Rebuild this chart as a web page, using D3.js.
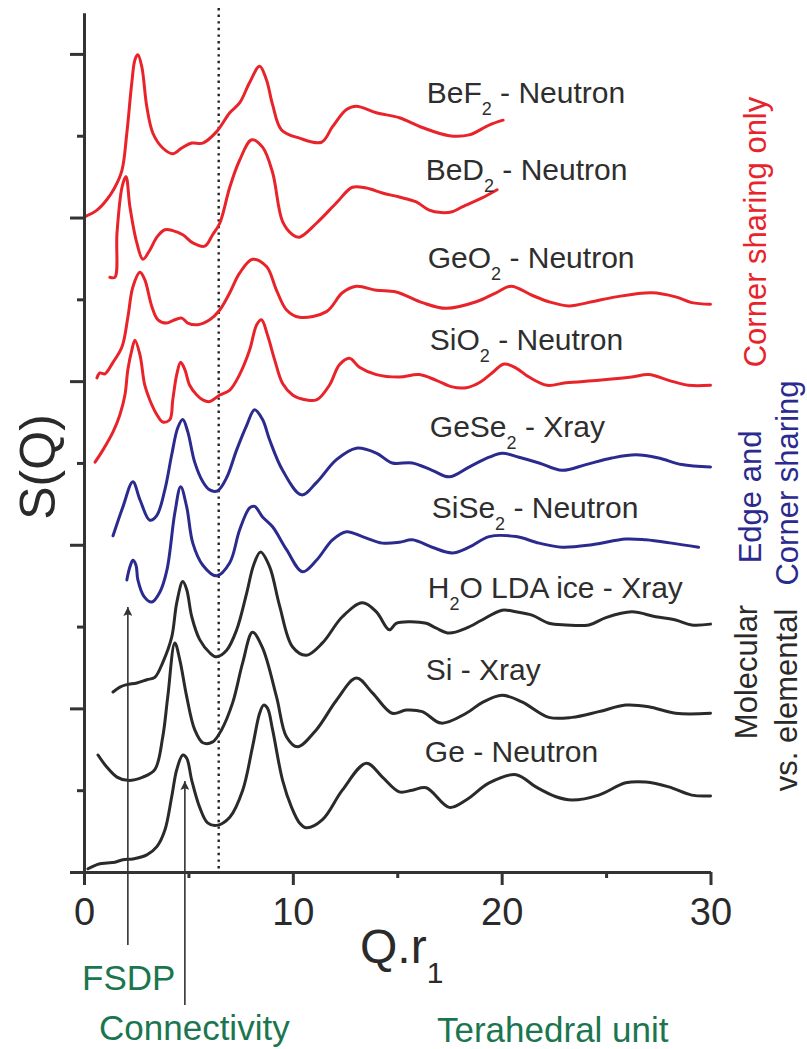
<!DOCTYPE html>
<html>
<head>
<meta charset="utf-8">
<script src="https://cdn.jsdelivr.net/npm/d3@7"></script>
<style>
  body { margin: 0; background: #fff; }
  svg { display: block; font-family: "Liberation Sans", Arial, Helvetica, sans-serif; }
</style>
</head>
<body>
<svg id="chart" width="807" height="1049"></svg>
<script>
// ---- Structure factors S(Q), stacked with vertical offsets; Q scaled by r1 ----
const beF2 = [[0.05,8.01],[0.62,8.09],[1.10,8.22],[1.48,8.37],[1.82,8.58],[2.05,9.03],[2.29,9.65],[2.44,9.93],[2.58,9.99],[2.77,9.84],[3.01,9.35],[3.30,9.03],[3.77,8.85],[4.25,8.78],[4.68,8.85],[5.16,8.91],[5.69,8.91],[6.35,9.05],[6.98,9.28],[7.45,9.40],[7.93,9.65],[8.41,9.85],[8.74,9.68],[9.03,9.38],[9.46,9.07],[10.32,8.97],[11.37,8.92],[11.90,9.11],[12.57,9.32],[13.04,9.36],[14.00,9.28],[15.10,9.22],[16.20,9.10],[17.49,9.00],[18.44,9.01],[19.40,9.13],[20.07,9.19]];
const beD2 = [[1.24,7.27],[1.48,7.27],[1.58,7.81],[1.82,8.37],[2.01,8.50],[2.20,8.13],[2.53,7.69],[2.82,7.49],[3.15,7.60],[3.49,7.76],[3.87,7.85],[4.25,7.84],[4.73,7.79],[5.21,7.69],[5.78,7.65],[6.16,7.79],[6.50,7.93],[6.98,8.37],[7.45,8.70],[8.03,8.95],[8.55,8.86],[9.03,8.55],[9.51,7.95],[9.99,7.79],[10.32,7.76],[11.13,7.93],[12.09,8.18],[12.85,8.37],[13.52,8.36],[14.29,8.30],[15.10,8.25],[15.91,8.19],[16.53,8.09],[17.10,8.06],[17.63,8.07],[18.11,8.13],[19.06,8.24],[19.78,8.34]];
const geO2 = [[0.62,6.04],[0.76,6.10],[1.00,6.09],[1.39,6.23],[1.82,6.42],[2.10,6.78],[2.34,7.15],[2.68,7.33],[2.91,7.24],[3.25,6.91],[3.54,6.75],[3.97,6.71],[4.25,6.74],[4.68,6.77],[4.97,6.71],[5.45,6.69],[6.02,6.75],[6.50,6.87],[6.98,7.08],[7.45,7.32],[8.07,7.49],[8.74,7.40],[9.22,7.11],[9.70,6.87],[10.32,6.78],[11.61,6.85],[12.37,7.08],[13.04,7.16],[14.00,7.11],[14.95,7.09],[16.20,6.96],[17.34,6.89],[18.78,6.97],[19.73,7.08],[20.45,7.16],[21.45,7.05],[22.26,6.97],[23.22,6.92],[24.32,6.97],[25.47,7.03],[27.19,7.08],[28.33,7.03],[29.10,6.96],[30,6.94]];
const siO2 = [[0.53,5.01],[0.91,5.16],[1.39,5.38],[1.72,5.59],[1.96,5.83],[2.10,6.14],[2.29,6.38],[2.44,6.50],[2.68,6.32],[2.91,5.95],[3.15,5.77],[3.49,5.59],[3.77,5.50],[4.11,5.53],[4.25,5.77],[4.44,6.08],[4.63,6.23],[4.83,6.14],[5.06,5.95],[5.40,5.83],[5.69,5.77],[6.02,5.75],[6.50,5.83],[6.98,5.89],[7.45,6.08],[7.93,6.38],[8.27,6.69],[8.50,6.75],[8.79,6.56],[9.13,6.26],[9.51,5.97],[9.99,5.83],[10.32,5.79],[11.13,5.77],[11.75,5.95],[12.23,6.20],[12.71,6.28],[13.19,6.17],[14.00,6.08],[15.10,6.05],[16.05,6.08],[16.87,6.01],[17.63,5.93],[18.30,5.92],[18.92,5.98],[19.54,6.10],[20.11,6.21],[20.69,6.16],[21.31,6.05],[22.17,5.95],[23.08,5.98],[24.65,6.01],[26.23,6.05],[27.04,6.08],[28.00,6.01],[28.95,5.95],[30,5.95]];
const geSe2 = [[1.39,4.11],[1.86,4.46],[2.34,4.77],[2.68,4.55],[3.15,4.30],[3.49,4.36],[3.87,4.67],[4.20,5.10],[4.49,5.43],[4.73,5.53],[4.97,5.38],[5.30,5.01],[5.69,4.77],[6.02,4.67],[6.40,4.66],[6.83,4.82],[7.31,5.16],[7.79,5.46],[8.17,5.65],[8.55,5.53],[8.89,5.28],[9.51,4.91],[10.42,4.61],[11.13,4.76],[12.09,5.04],[13.04,5.18],[14.00,5.12],[14.76,5.00],[15.72,5.00],[16.67,4.91],[17.49,4.83],[18.44,4.95],[19.40,5.07],[20.02,5.12],[20.83,5.07],[21.79,5.00],[22.89,4.91],[24.03,4.98],[25.27,5.06],[26.42,5.10],[27.52,5.06],[28.62,4.98],[30,4.95]];
const siSe2 = [[2.05,3.57],[2.20,3.73],[2.34,3.81],[2.49,3.75],[2.58,3.57],[2.87,3.37],[3.25,3.30],[3.63,3.42],[3.97,3.69],[4.35,4.39],[4.63,4.71],[4.92,4.46],[5.21,4.02],[5.69,3.75],[6.35,3.62],[6.98,3.78],[7.45,4.18],[7.93,4.45],[8.17,4.47],[8.55,4.34],[9.03,4.22],[9.70,3.94],[10.46,3.67],[11.13,3.81],[11.90,4.06],[12.57,4.16],[13.33,4.10],[14.29,4.02],[15.10,4.03],[15.72,4.06],[16.67,3.97],[17.63,3.90],[18.44,3.97],[19.40,4.10],[20.69,4.10],[21.79,4.02],[22.89,3.97],[24.32,4.00],[25.94,4.07],[26.90,4.06],[28.14,4.02],[29.43,3.97]];
const h2O = [[1.39,2.20],[1.72,2.26],[2.05,2.29],[2.53,2.31],[3.01,2.35],[3.39,2.38],[3.77,2.56],[4.20,2.87],[4.44,3.29],[4.73,3.55],[4.92,3.45],[5.16,3.12],[5.54,2.84],[6.02,2.68],[6.35,2.63],[6.83,2.71],[7.31,2.96],[7.79,3.41],[8.12,3.75],[8.45,3.91],[8.89,3.73],[9.36,3.26],[9.99,2.75],[10.65,2.65],[11.42,2.80],[12.37,3.12],[13.33,3.29],[14.00,3.18],[14.62,2.96],[14.95,3.04],[15.58,3.06],[16.39,3.04],[16.87,2.98],[17.49,2.92],[18.30,2.98],[19.06,3.08],[20.02,3.20],[20.69,3.18],[21.45,3.14],[22.26,3.04],[23.08,3.02],[24.18,3.02],[24.99,3.11],[26.23,3.18],[27.38,3.12],[28.33,3.08],[29.10,3.02],[30,3.03]];
const si = [[0.67,1.43],[1.10,1.28],[1.58,1.16],[2.10,1.12],[2.82,1.16],[3.39,1.25],[3.77,1.65],[4.01,2.14],[4.35,2.80],[4.59,2.59],[4.92,2.14],[5.30,1.74],[5.69,1.58],[6.16,1.59],[6.59,1.74],[7.12,2.07],[7.60,2.56],[8.07,2.93],[8.55,2.74],[9.22,2.14],[9.70,1.65],[10.22,1.53],[11.13,1.74],[12.09,2.10],[13.04,2.37],[13.81,2.19],[14.76,1.94],[15.43,1.98],[16.20,1.96],[17.10,1.82],[18.30,1.94],[19.06,2.07],[20.02,2.16],[20.97,2.08],[22.26,1.89],[23.36,1.89],[24.65,1.96],[25.94,2.04],[27.04,2.02],[28.33,1.94],[30,1.94]];
const ge = [[0.19,0.04],[0.43,0.07],[0.76,0.10],[1.10,0.11],[1.48,0.12],[1.86,0.15],[2.34,0.16],[3.01,0.21],[3.49,0.31],[3.87,0.51],[4.20,0.92],[4.44,1.25],[4.73,1.43],[4.92,1.39],[5.16,1.12],[5.54,0.79],[5.92,0.60],[6.35,0.57],[6.98,0.67],[7.60,1.00],[8.07,1.53],[8.41,1.94],[8.60,2.04],[8.79,2.00],[9.03,1.74],[9.51,1.12],[9.94,0.79],[10.32,0.60],[10.65,0.54],[11.42,0.64],[12.37,1.00],[13.52,1.33],[14.29,1.16],[15.10,0.98],[15.72,1.00],[16.39,1.03],[17.49,0.79],[18.30,0.88],[19.40,1.09],[20.69,1.19],[21.64,1.04],[22.60,0.92],[23.36,0.88],[24.65,0.94],[25.94,1.09],[26.90,1.10],[28.00,1.04],[29.10,0.94],[30,0.93]];

// Curve labels: [main text, subscript, text after subscript]
const labelParts = [
  ["BeF", "2", " - Neutron"],
  ["BeD", "2", " - Neutron"],
  ["GeO", "2", " - Neutron"],
  ["SiO", "2", " - Neutron"],
  ["GeSe", "2", " - Xray"],
  ["SiSe", "2", " - Neutron"],
  ["H", "2", "O LDA ice - Xray"],
  ["Si - Xray", "", ""],
  ["Ge - Neutron", "", ""]
];
const groupNames = ["corner", "corner", "corner", "corner", "edge", "edge", "elem", "elem", "elem"];

// Axis ticks
const xMajorTicks = [0, 10, 20, 30];
const xMinorTicks = [5, 15, 25];
const yMajorTicks = [0, 2, 4, 6, 8, 10];
const yMinorTicks = [1, 3, 5, 7, 9];

// Reference positions on the Q.r1 axis
const divideQ = 6.45;     // dotted divider
const fsdpQ = 2.1;        // first sharp diffraction peak
const connectQ = 4.83;    // connectivity peak

// ---- Layout ----
const series = [beF2, beD2, geO2, siO2, geSe2, siSe2, h2O, si, ge];
const colors = { corner: "#e8232a", edge: "#2b2a8e", elem: "#2a2a2a" };
const labelAt = [[16.41, 9.40], [16.36, 8.46], [16.46, 7.38], [16.56, 6.38], [16.56, 5.32],
                 [16.65, 4.33], [16.46, 3.35], [16.36, 2.35], [16.32, 1.34]];

const svg = d3.select("#chart");
const x = d3.scaleLinear().domain([0, 30]).range([84, 710.5]);
const y = d3.scaleLinear().domain([0, 10.5]).range([872, 13]);
const axisColor = "#333";
const green = "#1b7650";

// Dotted divider
svg.append("line")
  .attr("x1", x(divideQ)).attr("x2", x(divideQ))
  .attr("y1", 8).attr("y2", y(0))
  .attr("stroke", "#222").attr("stroke-width", 2.4)
  .attr("stroke-dasharray", "2.4,4.2");

// Curves
const line = d3.line()
  .x(d => x(d[0])).y(d => y(d[1]))
  .curve(d3.curveCatmullRom.alpha(0.5));

svg.append("g").selectAll("path")
  .data(series)
  .join("path")
  .attr("d", line)
  .attr("fill", "none")
  .attr("stroke", (d, i) => colors[groupNames[i]])
  .attr("stroke-width", 3)
  .attr("stroke-linejoin", "round")
  .attr("stroke-linecap", "round");

// Axes
function styleAxis(g) {
  g.select(".domain").attr("stroke", axisColor).attr("stroke-width", 3);
  g.selectAll(".tick line").attr("stroke", axisColor).attr("stroke-width", 3);
}
svg.append("g")
  .attr("transform", `translate(${x(0)},0)`)
  .call(d3.axisLeft(y).tickValues(yMinorTicks).tickSize(7).tickSizeOuter(0).tickFormat(""))
  .call(styleAxis);
svg.append("g")
  .attr("transform", `translate(${x(0)},0)`)
  .call(d3.axisLeft(y).tickValues(yMajorTicks).tickSize(14).tickSizeOuter(0).tickFormat(""))
  .call(styleAxis);
svg.append("g")
  .attr("transform", `translate(0,${y(0)})`)
  .call(d3.axisBottom(x).tickValues(xMinorTicks).tickSize(6).tickSizeOuter(0).tickFormat(""))
  .call(styleAxis);
const xAxis = svg.append("g")
  .attr("transform", `translate(0,${y(0)})`)
  .call(d3.axisBottom(x).tickValues(xMajorTicks).tickSize(13).tickSizeOuter(0).tickFormat(d3.format("d")))
  .call(styleAxis);
xAxis.selectAll(".tick text")
  .attr("y", 53).attr("dy", 0)
  .attr("fill", "#2a2a2a")
  .style("font-size", "38px")
  .style("font-family", "'Liberation Sans', Arial, sans-serif");

// Axis titles
const xt = svg.append("text")
  .attr("x", 360).attr("y", 963)
  .attr("fill", "#2a2a2a").style("font-size", "48px");
xt.append("tspan").text("Q.r");
xt.append("tspan").attr("dy", 20).style("font-size", "30px").text("1");

svg.append("text")
  .attr("transform", "translate(55,467) rotate(-90)")
  .attr("text-anchor", "middle")
  .attr("fill", "#2a2a2a").style("font-size", "50px")
  .text("S(Q)");

// Curve labels
const lbl = svg.append("g").selectAll("text")
  .data(labelParts)
  .join("text")
  .attr("x", (d, i) => x(labelAt[i][0]))
  .attr("y", (d, i) => y(labelAt[i][1]))
  .attr("fill", "#2e2e2e")
  .style("font-size", "30px");
lbl.each(function(d) {
  const t = d3.select(this);
  t.append("tspan").text(d[0]);
  if (d[1]) {
    t.append("tspan").attr("dy", 12).style("font-size", "18px").text(d[1]);
    t.append("tspan").attr("dy", -12).text(d[2]);
  }
});

// Group labels on the right, rotated
const groupLabels = [
  { text: "Corner sharing only", x: 766, y: 232, color: colors.corner },
  { text: "Edge and", x: 761, y: 497, color: colors.edge },
  { text: "Corner sharing", x: 798, y: 483, color: colors.edge },
  { text: "Molecular", x: 757, y: 672, color: colors.elem },
  { text: "vs. elemental", x: 797, y: 700, color: colors.elem }
];
svg.append("g").selectAll("text")
  .data(groupLabels)
  .join("text")
  .attr("transform", d => `translate(${d.x},${d.y}) rotate(-90)`)
  .attr("text-anchor", "middle")
  .attr("fill", d => d.color)
  .style("font-size", "31px")
  .text(d => d.text);

// Annotation arrows and their captions
const defs = svg.append("defs");
defs.append("marker")
  .attr("id", "head")
  .attr("viewBox", "0 0 10 10")
  .attr("refX", 10).attr("refY", 5)
  .attr("markerWidth", 13).attr("markerHeight", 9)
  .attr("markerUnits", "userSpaceOnUse")
  .attr("orient", "auto")
  .append("path").attr("d", "M0,0 L10,5 L0,10 L2,5 Z").attr("fill", "#333");

const arrows = [
  { q: fsdpQ, from: 945, to: 607 },
  { q: connectQ, from: 1005, to: 781 }
];
svg.append("g").selectAll("line")
  .data(arrows)
  .join("line")
  .attr("x1", d => x(d.q)).attr("x2", d => x(d.q))
  .attr("y1", d => d.from).attr("y2", d => d.to)
  .attr("stroke", "#333").attr("stroke-width", 1.6)
  .attr("marker-end", "url(#head)");

const captions = [
  { text: "FSDP", x: 82, y: 990 },
  { text: "Connectivity", x: 99, y: 1040 },
  { text: "Terahedral unit", x: 437, y: 1042 }
];
svg.append("g").selectAll("text")
  .data(captions)
  .join("text")
  .attr("x", d => d.x).attr("y", d => d.y)
  .attr("fill", green)
  .style("font-size", "35px")
  .text(d => d.text);
</script>
</body>
</html>
